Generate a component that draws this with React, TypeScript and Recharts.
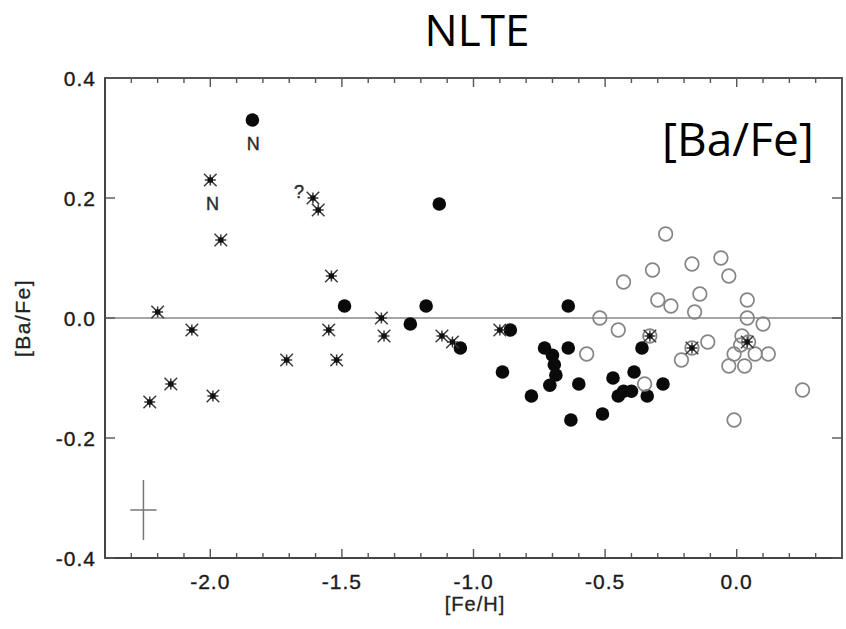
import React from 'react';
import { ScatterChart, Scatter, XAxis, YAxis, ReferenceLine, ReferenceArea, ErrorBar } from 'recharts';

// ── axis ticks ──
const X_MAJOR = [-2.0, -1.5, -1.0, -0.5, 0.0];
const X_TICKS = [-2.3, -2.2, -2.1, -2.0, -1.9, -1.8, -1.7, -1.6, -1.5, -1.4, -1.3, -1.2, -1.1, -1.0, -0.9, -0.8, -0.7, -0.6, -0.5, -0.4, -0.3, -0.2, -0.1, 0.0, 0.1, 0.2, 0.3];
const Y_MAJOR = [-0.4, -0.2, 0.0, 0.2, 0.4];

// ── halo stars (asterisks) ──
const halo = [
  { x: -2.0, y: 0.23 }, { x: -1.96, y: 0.13 }, { x: -1.61, y: 0.2 }, { x: -1.59, y: 0.18 },
  { x: -1.54, y: 0.07 }, { x: -2.2, y: 0.01 }, { x: -1.35, y: 0.0 }, { x: -2.07, y: -0.02 },
  { x: -1.34, y: -0.03 }, { x: -1.55, y: -0.02 }, { x: -1.71, y: -0.07 }, { x: -1.52, y: -0.07 },
  { x: -2.15, y: -0.11 }, { x: -2.23, y: -0.14 }, { x: -1.99, y: -0.13 }, { x: -1.12, y: -0.03 },
  { x: -1.08, y: -0.04 }, { x: -0.9, y: -0.02 }, { x: -0.33, y: -0.03 }, { x: -0.17, y: -0.05 },
  { x: 0.04, y: -0.04 },
];

// ── thick disk (filled circles) ──
const thick = [
  { x: -1.84, y: 0.33 }, { x: -1.49, y: 0.02 }, { x: -1.18, y: 0.02 }, { x: -1.24, y: -0.01 },
  { x: -1.13, y: 0.19 }, { x: -1.05, y: -0.05 }, { x: -0.86, y: -0.02 }, { x: -0.89, y: -0.09 },
  { x: -0.78, y: -0.13 }, { x: -0.73, y: -0.05 }, { x: -0.7, y: -0.062 }, { x: -0.693, y: -0.078 },
  { x: -0.687, y: -0.095 }, { x: -0.71, y: -0.112 }, { x: -0.64, y: 0.02 }, { x: -0.64, y: -0.05 },
  { x: -0.6, y: -0.11 }, { x: -0.63, y: -0.17 }, { x: -0.51, y: -0.16 }, { x: -0.47, y: -0.1 },
  { x: -0.45, y: -0.13 }, { x: -0.43, y: -0.122 }, { x: -0.4, y: -0.122 }, { x: -0.39, y: -0.09 },
  { x: -0.36, y: -0.05 }, { x: -0.34, y: -0.13 }, { x: -0.28, y: -0.11 },
];

// ── thin disk (open circles) ──
const thin = [
  { x: -0.52, y: 0.0 }, { x: -0.45, y: -0.02 }, { x: -0.57, y: -0.06 }, { x: -0.43, y: 0.06 },
  { x: -0.32, y: 0.08 }, { x: -0.27, y: 0.14 }, { x: -0.3, y: 0.03 }, { x: -0.25, y: 0.02 },
  { x: -0.17, y: 0.09 }, { x: -0.14, y: 0.04 }, { x: -0.16, y: 0.01 }, { x: -0.06, y: 0.1 },
  { x: -0.03, y: 0.07 }, { x: 0.04, y: 0.03 }, { x: 0.04, y: 0.0 }, { x: 0.1, y: -0.01 },
  { x: -0.11, y: -0.04 }, { x: -0.17, y: -0.05 }, { x: -0.21, y: -0.07 }, { x: -0.33, y: -0.03 },
  { x: 0.02, y: -0.03 }, { x: 0.045, y: -0.04 }, { x: 0.015, y: -0.045 }, { x: -0.01, y: -0.06 },
  { x: 0.07, y: -0.06 }, { x: 0.12, y: -0.06 }, { x: -0.03, y: -0.08 }, { x: 0.03, y: -0.08 },
  { x: 0.25, y: -0.12 }, { x: -0.01, y: -0.17 }, { x: -0.35, y: -0.11 },
];

// ── notes next to a few stars ──
const notes = [
  { x: -1.837, y: 0.29, text: 'N' },
  { x: -1.992, y: 0.19, text: 'N' },
  { x: -1.663, y: 0.21, text: '?' },
];

// ── typical error bar ──
const errCross = [{ x: -2.254, y: -0.32, ex: 0.05, ey: 0.05 }];

const W = 846;
const H = 629;
const MARGIN = { top: 78, right: 4, bottom: 0, left: 45 };
const PLOT_TOP = MARGIN.top;
const PLOT_RIGHT = W - MARGIN.right;

const FONT = 'Liberation Sans, Arial, sans-serif';
const TICK_COLOR = '#555';
const isMajorX = (v: number) => X_MAJOR.some((m) => Math.abs(m - v) < 1e-6);

// tick renderers: x/y are the spot on the axis line (tickSize=0, tickMargin=0).
// each one also draws the mirrored tick on the opposite side of the frame.
const BottomTick = (p: any) => {
  const v = p.payload.value;
  const len = isMajorX(v) ? 9 : 5;
  return (
    <g>
      <line x1={p.x} y1={p.y} x2={p.x} y2={p.y - len} stroke={TICK_COLOR} strokeWidth={1.4} />
      <line x1={p.x} y1={PLOT_TOP} x2={p.x} y2={PLOT_TOP + len} stroke="#555" strokeWidth={1.4} />
      {isMajorX(v) && (
        <text x={p.x} y={p.y + 16} dy="0.71em" textAnchor="middle" fontFamily={FONT} fontSize={21} fill="#1a1a1a" stroke="#1a1a1a" strokeWidth={0.35} letterSpacing={1}>
          {v.toFixed(1)}
        </text>
      )}
    </g>
  );
};
const LeftTick = (p: any) => (
  <g>
    <line x1={p.x} y1={p.y} x2={p.x + 10} y2={p.y} stroke={TICK_COLOR} strokeWidth={1.4} />
    <line x1={PLOT_RIGHT} y1={p.y} x2={PLOT_RIGHT - 10} y2={p.y} stroke="#555" strokeWidth={1.4} />
    <text x={p.x - 9} y={p.y} dy="0.36em" textAnchor="end" fontFamily={FONT} fontSize={21} fill="#1a1a1a" stroke="#1a1a1a" strokeWidth={0.35} letterSpacing={1}>
      {p.payload.value.toFixed(1)}
    </text>
  </g>
);

const FilledDot = (p: any) => <circle cx={p.cx} cy={p.cy} r={6.8} fill="#0a0a0a" />;
const OpenDot = (p: any) => (
  <circle cx={p.cx} cy={p.cy} r={6.8} fill="none" stroke="#858585" strokeWidth={1.7} />
);
const Asterisk = (p: any) => {
  const { cx, cy } = p;
  const d = 6.3;
  const s = 5.5;
  return (
    <g stroke="#3a3a3a" strokeWidth={1.5}>
      <line x1={cx - d} y1={cy - d} x2={cx + d} y2={cy + d} />
      <line x1={cx - d} y1={cy + d} x2={cx + d} y2={cy - d} />
      <line x1={cx - s} y1={cy} x2={cx + s} y2={cy} />
      <line x1={cx} y1={cy - s} x2={cx} y2={cy + s} />
      <rect x={cx - 2.6} y={cy - 2.6} width={5.2} height={5.2} fill="#111" stroke="none" />
    </g>
  );
};
const NoteText = (p: any) => (
  <text
    x={p.cx}
    y={p.cy}
    textAnchor="middle"
    dominantBaseline="central"
    fontFamily={FONT}
    fontSize={18}
    fill="#2a2a2a"
    stroke="#2a2a2a"
    strokeWidth={0.4}
  >
    {p.payload.text}
  </text>
);
const Nothing = () => <g />;

export default function App() {
  const domX: [number, number] = [-2.4, 0.4];
  const domY: [number, number] = [-0.4, 0.4];
  return (
    <div style={{ position: 'absolute', left: 0, top: 0, width: W, height: H, background: '#fff' }}>
      <ScatterChart width={W} height={H} margin={MARGIN}>
        <XAxis
          xAxisId="x"
          dataKey="x"
          type="number"
          domain={domX}
          allowDataOverflow
          ticks={X_TICKS}
          interval={0}
          tick={BottomTick}
          tickLine={false}
          tickSize={0}
          tickMargin={0}
          height={71}
          axisLine={{ stroke: '#444', strokeWidth: 2 }}
        />
        <YAxis
          yAxisId="y"
          dataKey="y"
          type="number"
          domain={domY}
          allowDataOverflow
          ticks={Y_MAJOR}
          interval={0}
          tick={LeftTick}
          tickLine={false}
          tickSize={0}
          tickMargin={0}
          width={60}
          axisLine={{ stroke: '#444', strokeWidth: 2 }}
        />

        {/* full plot frame */}
        <ReferenceArea
          xAxisId="x"
          yAxisId="y"
          x1={-2.4}
          x2={0.4}
          y1={-0.4}
          y2={0.4}
          ifOverflow="visible"
          fill="none"
          fillOpacity={0}
          stroke="#555"
          strokeWidth={2}
        />
        <ReferenceLine xAxisId="x" yAxisId="y" y={0} stroke="#a5a5a5" strokeWidth={2} />

        <Scatter xAxisId="x" yAxisId="y" data={thick} shape={FilledDot} isAnimationActive={false} />
        <Scatter xAxisId="x" yAxisId="y" data={thin} shape={OpenDot} isAnimationActive={false} />
        <Scatter xAxisId="x" yAxisId="y" data={halo} shape={Asterisk} isAnimationActive={false} />
        <Scatter xAxisId="x" yAxisId="y" data={notes} shape={NoteText} isAnimationActive={false} />
        <Scatter xAxisId="x" yAxisId="y" data={errCross} shape={Nothing} isAnimationActive={false}>
          <ErrorBar dataKey="ex" direction="x" width={0} stroke="#777" strokeWidth={1.5} />
          <ErrorBar dataKey="ey" direction="y" width={0} stroke="#777" strokeWidth={1.5} />
        </Scatter>
      </ScatterChart>

      {/* titles */}
      <div style={{ position: 'absolute', left: 377, width: 200, top: 0, textAlign: 'center', fontFamily: 'Open Sans, sans-serif', fontSize: 44, lineHeight: '58px', color: '#000' }}>
        NLTE
      </div>
      <div style={{ position: 'absolute', left: 662, top: 108, fontFamily: 'Open Sans, sans-serif', fontSize: 46, lineHeight: '60px', color: '#000' }}>
        [Ba/Fe]
      </div>
      <div style={{ position: 'absolute', left: 375, width: 200, top: 590, textAlign: 'center', fontFamily: FONT, fontSize: 20, lineHeight: '28px', color: '#222', letterSpacing: 1, WebkitTextStroke: '0.3px #222' }}>
        [Fe/H]
      </div>
      <div style={{ position: 'absolute', left: 23, top: 318, width: 0, height: 0 }}>
        <div style={{ position: 'absolute', left: -60, top: -14, width: 120, textAlign: 'center', transform: 'rotate(-90deg)', fontFamily: FONT, fontSize: 21, lineHeight: '28px', color: '#222', letterSpacing: 1.5, WebkitTextStroke: '0.3px #222' }}>
          [Ba/Fe]
        </div>
      </div>
    </div>
  );
}
